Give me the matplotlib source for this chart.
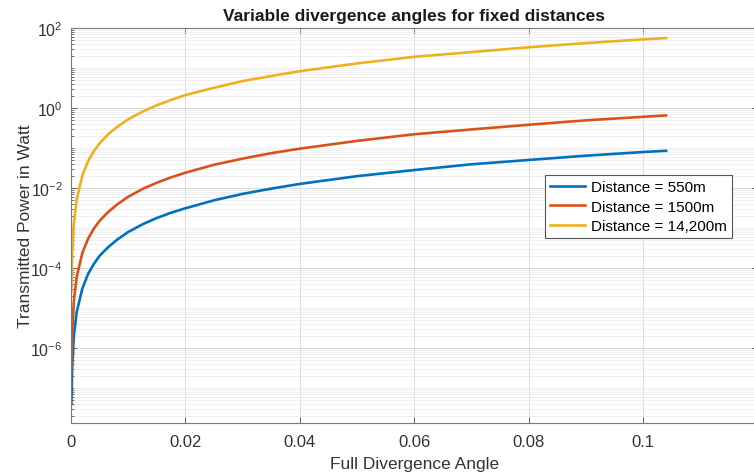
import matplotlib
matplotlib.use("Agg")
import matplotlib.pyplot as plt
from matplotlib.ticker import FixedLocator, NullFormatter
import numpy as np

plt.rcParams['font.family'] = ['Liberation Sans', 'DejaVu Sans']

# Full divergence angle (x) sample points
angle = [0.00007, 0.0002, 0.0005, 0.001, 0.002, 0.003, 0.004, 0.005, 0.0065, 0.008,
         0.01, 0.0125, 0.015, 0.0175, 0.02, 0.025, 0.03, 0.035, 0.04, 0.05,
         0.06, 0.07, 0.08, 0.09, 0.1, 0.104]

power_550 = [3.9e-8, 3.1e-7, 2.0e-6, 7.9e-6, 3.1e-5, 7.1e-5, 1.26e-4, 2.0e-4, 3.3e-4, 5.0e-4,
             7.9e-4, 1.23e-3, 1.77e-3, 2.4e-3, 3.1e-3, 4.9e-3, 7.1e-3, 9.6e-3, 1.26e-2, 1.97e-2,
             2.8e-2, 3.9e-2, 5.0e-2, 6.4e-2, 7.9e-2, 8.5e-2]

power_1500 = [2.9e-7, 2.4e-6, 1.5e-5, 6.0e-5, 2.4e-4, 5.4e-4, 9.6e-4, 1.5e-3, 2.5e-3, 3.8e-3,
              6.0e-3, 9.4e-3, 1.35e-2, 1.84e-2, 2.4e-2, 3.8e-2, 5.4e-2, 7.4e-2, 9.6e-2, 0.15,
              0.22, 0.29, 0.38, 0.49, 0.60, 0.65]

power_14200 = [2.5e-5, 2.1e-4, 1.3e-3, 5.2e-3, 2.1e-2, 4.7e-2, 8.3e-2, 0.13, 0.22, 0.33,
               0.52, 0.81, 1.17, 1.59, 2.1, 3.2, 4.7, 6.3, 8.3, 13,
               19, 25, 33, 42, 52, 56]

labels = ["Distance = 550m", "Distance = 1500m", "Distance = 14,200m"]
colors = ["#0072BD", "#D95319", "#EDB120"]

x_ticks = [0, 0.02, 0.04, 0.06, 0.08, 0.1]
x_tick_labels = ["0", "0.02", "0.04", "0.06", "0.08", "0.1"]
y_ticks = [1e-6, 1e-4, 1e-2, 1e0, 1e2]
y_tick_labels = [r"$\mathregular{10^{-6}}$", r"$\mathregular{10^{-4}}$", r"$\mathregular{10^{-2}}$",
                 r"$\mathregular{10^{0}}$", r"$\mathregular{10^{2}}$"]

fig = plt.figure(figsize=(7.54, 4.77), dpi=100)
ax = fig.add_axes([71/754, 53/477, (757.6-71)/754, (424-29)/477])

for y, lab, c in zip([power_550, power_1500, power_14200], labels, colors):
    ax.plot(angle, y, color=c, lw=1.9, label=lab)

ax.set_yscale('log')
ax.set_xlim(0, 0.12)
ax.set_ylim(10**-7.88, 1e2)

ax.xaxis.set_major_locator(FixedLocator(x_ticks))
ax.set_xticklabels(x_tick_labels)
ax.yaxis.set_major_locator(FixedLocator(y_ticks))
ax.set_yticklabels(y_tick_labels)
minor = []
for e in range(-8, 2):
    for m in range(1, 10):
        v = m * 10.0**e
        if v not in y_ticks and 10**-7.88 <= v <= 1e2:
            minor.append(v)
ax.yaxis.set_minor_locator(FixedLocator(minor))
ax.yaxis.set_minor_formatter(NullFormatter())

ax.grid(True, which='major', color='#dcdcdc', lw=0.7)
ax.grid(True, which='minor', axis='y', color='#ececec', lw=0.6)
ax.set_axisbelow(True)

ax.tick_params(which='both', direction='in', top=True, right=True, color='#5a5a5a',
               labelcolor='#333333')
ax.tick_params(axis='x', labelsize=12, pad=8)
ax.tick_params(axis='y', labelsize=11.5, pad=6)
ax.tick_params(which='major', length=4, width=0.7)
ax.tick_params(which='minor', length=2.5, width=0.6)
for s in ax.spines.values():
    s.set_color('#7a7a7a')
    s.set_linewidth(0.8)

ax.set_title("Variable divergence angles for fixed distances", fontsize=12.5,
             fontweight='bold', color='#1a1a1a', pad=6)
ax.set_xlabel("Full Divergence Angle", fontsize=12.5, color='#333333', labelpad=5)
ax.set_ylabel("Transmitted Power in Watt", fontsize=12.5, color='#333333', labelpad=-2)

leg = ax.legend(loc='upper left', bbox_to_anchor=(0.690, 0.628), fontsize=11,
                frameon=True, fancybox=False, edgecolor='#555555', framealpha=1,
                handlelength=2.3, handletextpad=0.35, borderpad=0.35, labelspacing=0.35,
                borderaxespad=0)
leg.get_frame().set_linewidth(0.8)

fig.savefig("out.png", dpi=100)
